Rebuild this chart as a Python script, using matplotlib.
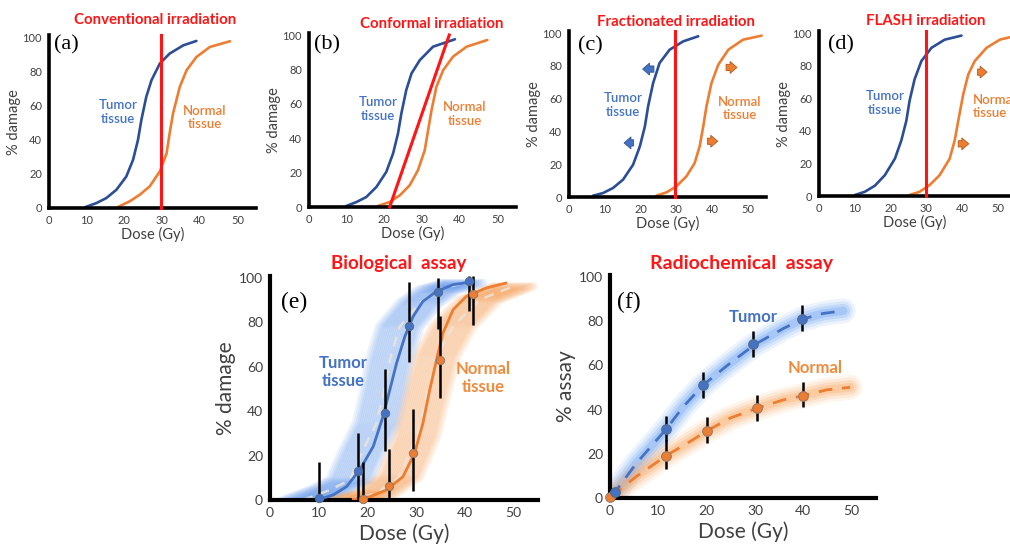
import matplotlib
matplotlib.use("Agg")
import matplotlib.pyplot as plt
import matplotlib.transforms as mtransforms
from matplotlib.patches import FancyArrowPatch
import numpy as np

########### DATA ###########
# (a) conventional irradiation
a_tumor_dose = [9.7, 12.6, 15.2, 17.9, 20.5, 22.3, 23.6, 24.5, 25.8, 27.2, 29.4, 32.0, 35.6, 39.1]
a_tumor_dmg = [0.6, 2.9, 5.8, 10.7, 18.4, 28.2, 39.8, 51.5, 65.0, 74.8, 84.5, 90.3, 95.1, 97.7]
a_normal_dose = [18.3, 21.4, 24.1, 26.7, 29.4, 31.2, 32.0, 32.9, 34.7, 36.5, 39.1, 42.7, 48.0]
a_normal_dmg = [0.6, 3.9, 7.8, 12.6, 21.4, 32.0, 43.7, 55.3, 70.9, 80.6, 88.3, 94.2, 97.5]
a_beam_dose = [29.8, 29.8]
a_beam_dmg = [0, 101]

# (b) conformal irradiation
b_tumor_dose = [9.9, 12.6, 15.2, 17.9, 20.5, 22.3, 23.6, 24.5, 25.8, 27.2, 29.4, 32.9, 38.7]
b_tumor_dmg = [0.6, 2.9, 5.8, 11.7, 20.4, 31.1, 42.7, 54.4, 68.0, 77.7, 85.4, 93.2, 97.5]
b_normal_dose = [18.3, 21.4, 24.1, 26.7, 28.9, 30.7, 31.6, 32.5, 33.8, 35.6, 38.2, 41.8, 47.3]
b_normal_dmg = [0.6, 2.9, 6.8, 12.6, 21.4, 33.0, 44.7, 56.3, 69.9, 79.6, 87.4, 93.2, 97.1]
b_beam_dose = [21.4, 37.2]
b_beam_dmg = [0, 100]

# (c) fractionated irradiation
c_tumor_dose = [6.7, 9.5, 12.3, 15.1, 17.9, 19.8, 21.2, 22.1, 23.5, 25.3, 28.1, 31.9, 36.1]
c_tumor_dmg = [0.8, 2.4, 5.5, 10.6, 19.7, 30.9, 43.1, 55.3, 69.5, 81.7, 89.8, 94.9, 98.0]
c_normal_dose = [24.4, 27.2, 30.0, 32.8, 35.1, 36.5, 37.5, 38.4, 39.8, 41.7, 44.5, 48.6, 53.8]
c_normal_dmg = [0.8, 2.8, 6.5, 12.6, 20.7, 30.9, 43.1, 55.3, 69.5, 80.7, 89.8, 95.9, 98.4]
c_beam_dose = [29.7, 29.7]
c_beam_dmg = [0, 101]
c_tumor_shift_from = [24.5, 18.8]
c_tumor_shift_to = [19.8, 14.6]
c_tumor_shift_at = [78, 33]
c_normal_shift_from = [43.1, 37.9]
c_normal_shift_to = [47.7, 42.3]
c_normal_shift_at = [79, 34]

# (d) FLASH irradiation
d_tumor_dose = [10.0, 12.8, 15.6, 18.4, 21.2, 23.0, 24.4, 25.3, 26.7, 28.6, 31.4, 35.1, 39.8]
d_tumor_dmg = [0.6, 2.6, 6.3, 12.8, 22.9, 34.1, 46.2, 58.4, 71.6, 82.8, 90.9, 95.9, 98.4]
d_normal_dose = [25.3, 28.1, 30.9, 33.7, 36.5, 37.9, 38.9, 40.3, 41.7, 43.5, 46.8, 50.5, 53.3]
d_normal_dmg = [0.6, 2.6, 6.7, 12.8, 22.9, 34.1, 46.2, 62.5, 74.6, 82.8, 90.9, 95.9, 97.4]
d_beam_dose = [30.0, 30.0]
d_beam_dmg = [0, 101]
d_normal_shift_from = [43.5, 38.1]
d_normal_shift_to = [47.7, 42.6]
d_normal_shift_at = [76, 32]

# (e) biological assay
e_tumor_fit_dose = [10.2, 13.0, 15.7, 18.4, 21.2, 23.2, 24.6, 26.0, 27.7, 29.4, 31.4, 34.2, 37.6, 40.6]
e_tumor_fit_dmg = [0.3, 2.3, 6.0, 13.5, 24.1, 37.6, 49.6, 61.7, 73.7, 82.7, 89.5, 94.0, 97.0, 98.0]
e_normal_fit_dose = [17.1, 20.5, 23.9, 27.3, 29.7, 31.4, 32.8, 34.2, 35.5, 37.6, 40.3, 44.4, 48.4]
e_normal_fit_dmg = [0.3, 1.5, 4.5, 10.5, 21.1, 34.6, 49.6, 63.2, 75.2, 85.7, 91.7, 95.5, 97.7]
e_tumor_band_dose = [6.8, 12.3, 16.4, 19.1, 21.9, 23.3, 24.6, 26.6, 30.7, 34.5, 39.5]
e_tumor_band_dmg = [0.0, 4.5, 9.0, 22.5, 34.6, 48.0, 63.0, 78.0, 88.7, 94.6, 97.7]
e_normal_band_dose = [15.7, 21.9, 26.6, 30.1, 32.1, 34.2, 37.6, 43.0, 49.9]
e_normal_band_dmg = [0.0, 3.0, 10.5, 28.6, 46.6, 64.7, 78.2, 90.2, 96.2]
e_tumor_dose = [10.0, 18.1, 23.6, 28.6, 34.4, 40.8]
e_tumor_dmg = [1.0, 13.0, 39.0, 78.5, 93.5, 98.5]
e_tumor_low = [0, 0, 22, 62, 77, 85]
e_tumor_high = [17, 30, 59, 98, 100, 101]
e_normal_dose = [19.1, 24.5, 29.4, 35.0, 41.7]
e_normal_dmg = [0.5, 6.3, 21.0, 63.0, 93.0]
e_normal_low = [0, 0, 4, 46, 79]
e_normal_high = [17, 23, 41, 83, 101]

# (f) radiochemical assay
f_tumor_fit_dose = [0.1, 1.4, 5.5, 11.6, 15.2, 19.3, 24.8, 30.0, 35.9, 39.8, 44.1, 48.3]
f_tumor_fit_val = [1.0, 3.8, 15.8, 31.1, 41.4, 51.1, 60.9, 69.5, 76.7, 80.9, 83.5, 84.7]
f_normal_fit_dose = [0.1, 5.5, 11.6, 16.6, 20.1, 24.8, 30.4, 35.9, 40.0, 44.8, 49.7]
f_normal_fit_val = [0.5, 9.8, 19.1, 25.6, 30.4, 36.1, 40.6, 44.4, 46.3, 48.9, 50.1]
f_tumor_dose = [1.0, 11.5, 19.3, 29.7, 39.8]
f_tumor_val = [2.6, 31.1, 51.1, 69.5, 80.9]
f_tumor_low = [2.6, 25.6, 45.4, 63.9, 75.5]
f_tumor_high = [2.6, 37.1, 56.8, 75.5, 87.2]
f_normal_dose = [0.1, 11.5, 20.1, 30.4, 40.0]
f_normal_val = [0.5, 19.1, 30.4, 40.6, 46.3]
f_normal_low = [0.5, 13.1, 24.8, 35.0, 41.1]
f_normal_high = [0.5, 26.3, 36.8, 46.6, 52.6]

x_ticks = [0, 10, 20, 30, 40, 50]
y_ticks = [0, 20, 40, 60, 80, 100]
##################################################

W, H = 1010, 546
NAVY = "#2b4e96"
BLUE = "#4472c4"
ORANGE = "#ed7d31"
RED = "#ff1515"
GREY = "#404040"

plt.rcParams["font.family"] = ["Lato", "DejaVu Sans"]

fig = plt.figure(figsize=(W / 100, H / 100), dpi=100)


def fig_text(x, y, s, **kw):
    # place text in figure pixel coordinates (origin top-left)
    return fig.text(x / W, 1 - y / H, s, **kw)


def make_axes(x0, y0, px_gy, px_pct, xmax=55, ymax=101, tick_size=8, lab_size=10.5,
              ylabel="% damage", lw=2.6, xpad=1, ypad=1):
    ax = fig.add_axes([x0 / W, 1 - y0 / H, px_gy * xmax / W, px_pct * ymax / H])
    ax.set_xlim(0, xmax)
    ax.set_ylim(0, ymax)
    ax.patch.set_alpha(0)
    for side in ["top", "right"]:
        ax.spines[side].set_visible(False)
    for side in ["left", "bottom"]:
        ax.spines[side].set_linewidth(lw)
        ax.spines[side].set_color("black")
    ax.set_xticks(x_ticks)
    ax.set_yticks(y_ticks)
    ax.tick_params(length=0, labelsize=tick_size, labelcolor=GREY, pad=5)
    ax.set_xlabel("Dose (Gy)", fontsize=lab_size, color=GREY, labelpad=xpad)
    ax.set_ylabel(ylabel, fontsize=lab_size, color=GREY, labelpad=ypad)
    return ax


def shift_arrow(ax, x_from, x_to, y, color, edge):
    arr = FancyArrowPatch((x_from, y), (x_to, y),
                          arrowstyle="simple,head_length=0.55,head_width=0.95,tail_width=0.5",
                          mutation_scale=9, fc=color, ec=edge, lw=0.6, zorder=4)
    ax.add_patch(arr)


def sketch_panel(ax, tumor, normal, beam, letter, title, title_xy, letter_xy,
                 tumor_xy, normal_xy, normal_ha="center"):
    ax.plot(*tumor, color=NAVY, lw=1.9, solid_capstyle="round")
    ax.plot(*normal, color=ORANGE, lw=1.9, solid_capstyle="round")
    ax.plot(*beam, color=RED, lw=2.2, clip_on=False, zorder=3)
    ax.text(*tumor_xy, "Tumor\ntissue", color=BLUE, fontsize=9.5, fontweight="semibold",
            ha="center", va="center", linespacing=1.15)
    ax.text(*normal_xy, "Normal\ntissue", color=ORANGE, fontsize=9.5, fontweight="semibold",
            ha=normal_ha, va="center", linespacing=1.15)
    fig_text(*title_xy, title, color=RED, fontsize=10.8, fontweight="bold", ha="center", va="center")
    fig_text(*letter_xy, letter, family="Liberation Serif", fontsize=16, ha="left", va="center")


# ---- top row ----
ax_a = make_axes(49, 208, 3.77, 1.71)
sketch_panel(ax_a, (a_tumor_dose, a_tumor_dmg), (a_normal_dose, a_normal_dmg),
             (a_beam_dose, a_beam_dmg), "(a)", "Conventional irradiation", (155, 20), (54, 45),
             (18.3, 56), (41.4, 53))

ax_b = make_axes(309, 207, 3.77, 1.72)
sketch_panel(ax_b, (b_tumor_dose, b_tumor_dmg), (b_normal_dose, b_normal_dmg),
             (b_beam_dose, b_beam_dmg), "(b)", "Conformal irradiation", (432, 24), (314, 45),
             (18.3, 57), (41.4, 54))

ax_c = make_axes(569, 197, 3.58, 1.64)
sketch_panel(ax_c, (c_tumor_dose, c_tumor_dmg), (c_normal_dose, c_normal_dmg),
             (c_beam_dose, c_beam_dmg), "(c)", "Fractionated irradiation", (676, 22), (578, 46),
             (15.1, 56), (47.8, 54))
for xf, xt, y in zip(c_tumor_shift_from, c_tumor_shift_to, c_tumor_shift_at):
    shift_arrow(ax_c, xf, xt, y, BLUE, "#2f528f")
for xf, xt, y in zip(c_normal_shift_from, c_normal_shift_to, c_normal_shift_at):
    shift_arrow(ax_c, xf, xt, y, ORANGE, "#b45a1e")

ax_d = make_axes(819, 196, 3.58, 1.63, xmax=(W - 819) / 3.58)
sketch_panel(ax_d, (d_tumor_dose, d_tumor_dmg), (d_normal_dose, d_normal_dmg),
             (d_beam_dose, d_beam_dmg), "(d)", "FLASH irradiation", (926, 21), (828, 45),
             (18.4, 57), (43.0, 55), normal_ha="left")
for xf, xt, y in zip(d_normal_shift_from, d_normal_shift_to, d_normal_shift_at):
    shift_arrow(ax_d, xf, xt, y, ORANGE, "#b45a1e")

# ---- (e) biological assay ----
ax_e = make_axes(270, 500, 4.87, 2.22, tick_size=10, lab_size=15, lw=3, xpad=3, ypad=2)
for band_x, band_y, col in [(e_tumor_band_dose, e_tumor_band_dmg, "#5b94ee"),
                            (e_normal_band_dose, e_normal_band_dmg, "#f79a4c")]:
    for dx in np.linspace(-21, 21, 22):
        off = mtransforms.ScaledTranslation(dx / 100, 0, fig.dpi_scale_trans)
        ax_e.plot(band_x, band_y, color=col, lw=6, alpha=0.1,
                  solid_capstyle="round", transform=ax_e.transData + off, zorder=1)
    ax_e.plot(band_x, band_y, color="#ebe4dc", lw=1.8, alpha=0.85, dashes=(4, 3), zorder=2)
ax_e.plot(e_tumor_fit_dose, e_tumor_fit_dmg, color=BLUE, lw=2.0, zorder=3)
ax_e.plot(e_normal_fit_dose, e_normal_fit_dmg, color=ORANGE, lw=2.0, zorder=3)
ax_e.vlines(e_tumor_dose, e_tumor_low, e_tumor_high, color="black", lw=1.8, zorder=4, clip_on=False)
ax_e.vlines(e_normal_dose, e_normal_low, e_normal_high, color="black", lw=1.8, zorder=4, clip_on=False)
ax_e.plot(e_tumor_dose, e_tumor_dmg, "o", ms=6, mfc=BLUE, mec="#5a6a80", mew=0.7, zorder=5, clip_on=False)
ax_e.plot(e_normal_dose, e_normal_dmg, "o", ms=6, mfc=ORANGE, mec="#8a7a70", mew=0.7, zorder=5, clip_on=False)
ax_e.text(15, 57.7, "Tumor\ntissue", color=BLUE, fontsize=12, fontweight="bold",
          ha="center", va="center", linespacing=1.2)
ax_e.text(43.7, 55, "Normal\ntissue", color="#f08a3c", fontsize=12, fontweight="bold",
          ha="center", va="center", linespacing=1.2)
fig_text(399, 263, "Biological  assay", color=RED, fontsize=13.5, fontweight="bold", ha="center", va="center")
fig_text(281, 302, "(e)", family="Liberation Serif", fontsize=17, ha="left", va="center")

# ---- (f) radiochemical assay ----
ax_f = make_axes(610, 498, 4.83, 2.21, tick_size=10, lab_size=15, ylabel="% assay", lw=3,
                 xpad=3, ypad=2)
for fx, fy, col, glow in [(f_tumor_fit_dose, f_tumor_fit_val, BLUE, "#5f9cf5"),
                          (f_normal_fit_dose, f_normal_fit_val, ORANGE, "#f9a055")]:
    for w, al in [(18, 0.10), (14, 0.14), (10, 0.2), (6, 0.25)]:
        ax_f.plot(fx, fy, color=glow, lw=w, alpha=al, solid_capstyle="round", zorder=1)
    ax_f.plot(fx, fy, color=col, lw=2.0, dashes=(5, 3.5), zorder=2)
ax_f.vlines(f_tumor_dose, f_tumor_low, f_tumor_high, color="black", lw=1.8, zorder=3)
ax_f.vlines(f_normal_dose, f_normal_low, f_normal_high, color="black", lw=1.8, zorder=3)
ax_f.plot(f_normal_dose, f_normal_val, "o", ms=7, mfc=ORANGE, mec="#8a7a70", mew=0.7, zorder=4, clip_on=False)
ax_f.plot(f_tumor_dose, f_tumor_val, "o", ms=7, mfc=BLUE, mec="#5a6a80", mew=0.7, zorder=4, clip_on=False)
ax_f.text(29.6, 82, "Tumor", color=BLUE, fontsize=12, fontweight="bold", ha="center", va="center")
ax_f.text(42.4, 59, "Normal", color="#f08a3c", fontsize=12, fontweight="bold", ha="center", va="center")
fig_text(742, 263, "Radiochemical  assay", color=RED, fontsize=14, fontweight="bold", ha="center", va="center")
fig_text(617, 302, "(f)", family="Liberation Serif", fontsize=17, ha="left", va="center")

fig.savefig("out.png", dpi=100)
